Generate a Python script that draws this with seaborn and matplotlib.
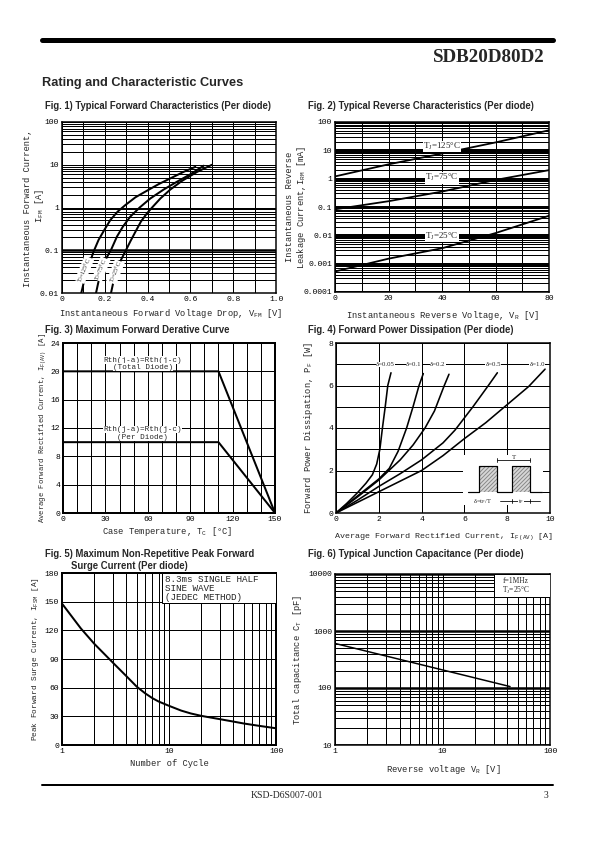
import numpy as np
import matplotlib
matplotlib.use('Agg')
import matplotlib.pyplot as plt
import matplotlib.ticker as mticker
from matplotlib.lines import Line2D
from matplotlib.patches import Rectangle
import seaborn as sns

# ── data ─────────────────────────────────────────────────────────
# Fig 1: forward characteristics, VF [V] vs IF [A]
f1_temps = ['125', '75', '25']
f1_vf = {'125': [0.090, 0.101, 0.114, 0.129, 0.148, 0.171, 0.198, 0.226, 0.260, 0.296,
                 0.343, 0.397, 0.452, 0.506, 0.569, 0.623],
         '75':  [0.159, 0.171, 0.187, 0.207, 0.231, 0.257, 0.285, 0.319, 0.363, 0.413,
                 0.475, 0.537, 0.600, 0.662],
         '25':  [0.229, 0.241, 0.257, 0.276, 0.296, 0.319, 0.343, 0.369, 0.397, 0.421,
                 0.460, 0.506, 0.561, 0.631, 0.701]}
f1_if = {'125': [0.01, 0.017, 0.029, 0.050, 0.094, 0.175, 0.30, 0.51, 0.80, 1.14,
                 1.73, 2.47, 3.53, 4.79, 6.84, 8.93],
         '75':  [0.01, 0.019, 0.035, 0.065, 0.107, 0.21, 0.36, 0.61, 1.0, 1.63,
                 2.63, 4.0, 6.0, 9.5],
         '25':  [0.01, 0.019, 0.035, 0.060, 0.094, 0.16, 0.27, 0.47, 0.73, 1.0,
                 1.63, 2.63, 4.2, 6.8, 10.0]}
f1_label_pos = {'125': (0.105, 0.035), '75': (0.183, 0.036), '25': (0.25, 0.031)}
f1_xticks = [0, 0.2, 0.4, 0.6, 0.8, 1.0]
f1_xticklabels = ['0', '0.2', '0.4', '0.6', '0.8', '1.0']
f1_yticks = [0.01, 0.1, 1, 10, 100]
f1_yticklabels = ['0.01', '0.1', '1', '10', '100']

# Fig 2: reverse leakage, VR [V] vs IR [mA]
f2_vr = [0, 20, 40, 60, 80]
f2_ir = {'125': [1.2, 3.2, 7.7, 19, 51],
         '75':  [0.083, 0.16, 0.35, 0.9, 2.0],
         '25':  [0.00053, 0.0015, 0.0035, 0.012, 0.049]}
f2_label_pos = {'125': (40, 13.8), '75': (40, 1.07), '25': (40, 0.0093)}
f2_xticks = [0, 20, 40, 60, 80]
f2_yticks = [0.0001, 0.001, 0.01, 0.1, 1, 10, 100]
f2_yticklabels = ['0.0001', '0.001', '0.01', '0.1', '1', '10', '100']

# Fig 3: derating, Tc [°C] vs IF(AV) [A]
f3_tc = [0, 110, 150]
f3_total = [20, 20, 0]
f3_per = [10, 10, 0]
f3_xticks = [0, 30, 60, 90, 120, 150]
f3_yticks = [0, 4, 8, 12, 16, 20, 24]

# Fig 4: power dissipation, IF(AV) [A] vs PF [W]
f4_duty = ['0.05', '0.1', '0.2', '0.5', '1.0']
f4_i = {'0.05': [0, 0.5, 1.0, 1.4, 1.7, 1.9, 2.05, 2.17, 2.3, 2.42, 2.57],
        '0.1':  [0, 1.0, 1.5, 2.0, 2.49, 2.9, 3.3, 3.6, 3.88, 4.08],
        '0.2':  [0, 1.0, 2.0, 3.0, 3.6, 4.16, 4.6, 5.06, 5.28],
        '0.5':  [0, 1.0, 2.0, 3.0, 4.0, 5.0, 5.56, 6.4, 7.12, 7.54],
        '1.0':  [0, 1.0, 2.0, 3.0, 4.0, 5.0, 6.0, 7.0, 8.0, 9.0, 9.77]}
f4_p = {'0.05': [0, 0.45, 0.95, 1.4, 1.8, 2.3, 3.0, 4.0, 5.0, 6.0, 6.6],
        '0.1':  [0, 0.8, 1.2, 1.6, 2.1, 2.9, 4.0, 5.0, 6.0, 6.56],
        '0.2':  [0, 0.75, 1.55, 2.5, 3.2, 4.0, 4.8, 6.0, 6.53],
        '0.5':  [0, 0.6, 1.25, 1.85, 2.5, 3.3, 3.9, 5.0, 6.0, 6.6],
        '1.0':  [0, 0.5, 1.0, 1.5, 2.0, 2.7, 3.5, 4.25, 5.1, 5.95, 6.77]}
f4_label_x = {'0.05': 2.32, '0.1': 3.64, '0.2': 4.75, '0.5': 7.35, '1.0': 9.41}
f4_xticks = [0, 2, 4, 6, 8, 10]
f4_yticks = [0, 2, 4, 6, 8]

# Fig 5: surge current, cycles vs IFSM [A]
f5_n = [1, 1.5, 2, 3, 4, 5, 6, 7, 8, 10, 13, 16, 20, 30, 40, 50, 70, 100]
f5_i = [148, 122, 106, 86, 72, 61, 54, 49, 45.5, 41, 36, 33, 30.5, 27, 24.5, 22.5, 20, 17.5]
f5_yticks = [0, 30, 60, 90, 120, 150, 180]

# Fig 6: junction capacitance, VR [V] vs CT [pF]
f6_v = [1, 42.5]
f6_c = [605, 106]
f6_yticks = [10, 100, 1000, 10000]

# ── page setup ───────────────────────────────────────────────────
W, H = 595, 842
sns.set_style('white')
plt.rcParams['font.family'] = ['Liberation Mono', 'DejaVu Sans']
plt.rcParams['mathtext.default'] = 'regular'

fig = plt.figure(figsize=(W / 72, H / 72), dpi=72)


def panel(l, t, r, b, spine=1.5):
    ax = fig.add_axes([l / W, 1 - b / H, (r - l) / W, (b - t) / H])
    for s in ax.spines.values():
        s.set_visible(True)
        s.set_color('black')
        s.set_linewidth(spine)
    ax.tick_params(which='both', length=0, labelsize=8, pad=3, colors='black')
    ax.set_axisbelow(True)
    return ax


def ftext(x, y, s, **kw):
    kw.setdefault('va', 'center')
    fig.text(x / W, 1 - y / H, s, **kw)


def hline(y, x0, x1, lw):
    fig.add_artist(Line2D([x0 / W, x1 / W], [1 - y / H, 1 - y / H], color='black', lw=lw))


title_kw = dict(family='Liberation Sans', weight='bold', size=9.5)
lab_kw = dict(size=8.8, ha='center')

hline(40, 42, 553, 5)
ftext(545, 58, 'SDB20D80D2', family='Liberation Serif', weight='bold', size=19, ha='right')
ftext(42, 83, 'Rating and Characteristic Curves', family='Liberation Sans', weight='bold', size=12.8)
hline(785, 42, 553, 2)
ftext(287, 795, 'KSD-D6S007-001', family='Liberation Serif', size=9.8, ha='center')
ftext(548, 795, '3', family='Liberation Serif', size=9.8, ha='right')

# ── Fig 1 ────────────────────────────────────────────────────────
ftext(45, 106, 'Fig. 1) Typical Forward Characteristics (Per diode)', **title_kw)
ax1 = panel(62, 122, 276, 293)
ax1.set_yscale('log')
for t in f1_temps:
    sns.lineplot(x=f1_vf[t], y=f1_if[t], ax=ax1, color='black', lw=2,
                 sort=False, estimator=None)
    ax1.text(*f1_label_pos[t], r'$T_J$=' + t + '°C', rotation=68, size=6,
             family='Liberation Serif', ha='center', va='center', zorder=5,
             bbox=dict(fc='white', ec='none', pad=0.3))
ax1.set_xlim(0, 1)
ax1.set_ylim(0.01, 100)
ax1.set_xticks(f1_xticks)
ax1.set_xticklabels(f1_xticklabels)
ax1.set_xticks(np.arange(0, 1.01, 0.1), minor=True)
ax1.set_yticks(f1_yticks)
ax1.set_yticklabels(f1_yticklabels)
ax1.yaxis.set_minor_locator(mticker.LogLocator(base=10, subs=np.arange(2, 10)))
ax1.yaxis.set_minor_formatter(mticker.NullFormatter())
ax1.grid(which='both', color='black', lw=1)
ax1.axhline(0.1, color='black', lw=2.5, zorder=1)
ax1.set_xlabel('')
ax1.set_ylabel('')
ftext(171, 313, r'Instantaneous Forward Voltage Drop, $V_{FM}$ [V]', **lab_kw)
ftext(28, 208, 'Instantaneous Forward Current,', rotation=90, **lab_kw)
ftext(40, 206, r'$I_{FM}$ [A]', rotation=90, **lab_kw)

# ── Fig 2 ────────────────────────────────────────────────────────
ftext(308, 106, 'Fig. 2) Typical Reverse Characteristics (Per diode)', **title_kw)
ax2 = panel(335, 122, 549, 292)
ax2.set_yscale('log')
for t in f1_temps:
    sns.lineplot(x=f2_vr, y=f2_ir[t], ax=ax2, color='black', lw=1.8,
                 sort=False, estimator=None)
    ax2.text(*f2_label_pos[t], r'$T_J$=' + t + '°C', size=9,
             family='Liberation Serif', ha='center', va='center', zorder=5,
             bbox=dict(fc='white', ec='none', pad=0.3))
ax2.set_xlim(0, 80)
ax2.set_ylim(0.0001, 100)
ax2.set_xticks(f2_xticks)
ax2.set_xticks(np.arange(0, 81, 10), minor=True)
ax2.set_yticks(f2_yticks)
ax2.set_yticklabels(f2_yticklabels)
ax2.yaxis.set_minor_locator(mticker.LogLocator(base=10, subs=np.arange(2, 10)))
ax2.yaxis.set_minor_formatter(mticker.NullFormatter())
ax2.grid(which='minor', color='black', lw=1)
ax2.grid(which='major', axis='x', color='black', lw=1)
ax2.grid(which='major', axis='y', color='black', lw=3)
ax2.set_xlabel('')
ax2.set_ylabel('')
ftext(443, 315, r'Instantaneous Reverse Voltage, $V_R$ [V]', **lab_kw)
ftext(289, 207, 'Instantaneous Reverse', rotation=90, **lab_kw)
ftext(301, 207, r'Leakage Current,$I_{RM}$ [mA]', rotation=90, **lab_kw)

# ── Fig 3 ────────────────────────────────────────────────────────
ftext(45, 330, 'Fig. 3) Maximum Forward Derative Curve', **title_kw)
ax3 = panel(63, 343, 275, 513, spine=2)
sns.lineplot(x=f3_tc, y=f3_total, ax=ax3, color='black', lw=2, sort=False, estimator=None)
sns.lineplot(x=f3_tc, y=f3_per, ax=ax3, color='black', lw=2, sort=False, estimator=None)
for y, s in [(21.6, 'Rth(j-a)=Rth(j-c)'), (20.6, '(Total Diode)'),
             (11.8, 'Rth(j-a)=Rth(j-c)'), (10.7, '(Per Diode)')]:
    ax3.text(56.5, y, s, size=7.6, ha='center', va='center', zorder=5,
             bbox=dict(fc='white', ec='none', pad=0.2))
ax3.set_xlim(0, 150)
ax3.set_ylim(0, 24)
ax3.set_xticks(f3_xticks)
ax3.set_xticks(np.arange(0, 151, 10), minor=True)
ax3.set_yticks(f3_yticks)
ax3.grid(which='both', color='black', lw=1)
ax3.set_xlabel('')
ax3.set_ylabel('')
ftext(167, 531, r'Case Temperature, $T_C$ [°C]', **lab_kw)
ftext(43, 428, r'Average Forward Rectified Current, $I_{F(AV)}$ [A]', rotation=90,
      size=7.3, ha='center')

# ── Fig 4 ────────────────────────────────────────────────────────
ftext(308, 330, 'Fig. 4) Forward Power Dissipation (Per diode)', **title_kw)
ax4 = panel(336, 343, 550, 513)
for d in f4_duty:
    sns.lineplot(x=f4_i[d], y=f4_p[d], ax=ax4, color='black', lw=1.6,
                 sort=False, estimator=None)
    ax4.text(f4_label_x[d], 7, 'δ=' + d, size=6.8, family='Liberation Serif',
             ha='center', va='center', zorder=5,
             bbox=dict(fc='white', ec='none', pad=0.2))
ax4.set_xlim(0, 10)
ax4.set_ylim(0, 8)
ax4.set_xticks(f4_xticks)
ax4.set_yticks(f4_yticks)
ax4.set_yticks(np.arange(0, 9, 1), minor=True)
ax4.grid(which='both', color='black', lw=1)
# duty-cycle inset
ax4.add_patch(Rectangle((5.93, 0.38), 3.74, 2.35, fc='white', ec='none', zorder=3))
for x0 in (6.68, 8.22):
    ax4.add_patch(Rectangle((x0, 1.0), 0.85, 1.23, fc='#d8d8d8', ec='#8a8a8a',
                            hatch='//////', lw=0, zorder=4))
ax4.plot([6.17, 6.68, 6.68, 7.52, 7.52, 8.22, 8.22, 9.07, 9.07, 9.63],
         [1.0, 1.0, 2.23, 2.23, 1.0, 1.0, 2.23, 2.23, 1.0, 1.0],
         color='black', lw=1.2, zorder=5)
ax4.plot([7.52, 9.07], [2.48, 2.48], color='black', lw=0.8, zorder=5)
ax4.plot([7.52, 7.52], [2.38, 2.58], color='black', lw=0.8, zorder=5)
ax4.plot([9.07, 9.07], [2.38, 2.58], color='black', lw=0.8, zorder=5)
ax4.text(8.3, 2.6, 'T', size=7, family='Liberation Serif', ha='center', va='center', zorder=6)
ax4.text(6.85, 0.55, r'δ=$t_P$/T', size=6.5, family='Liberation Serif',
         ha='center', va='center', zorder=6)
ax4.plot([7.65, 9.55], [0.55, 0.55], color='black', lw=0.8, zorder=5)
ax4.plot([8.22, 8.22], [0.45, 0.65], color='black', lw=0.8, zorder=5)
ax4.plot([9.07, 9.07], [0.45, 0.65], color='black', lw=0.8, zorder=5)
ax4.text(8.65, 0.55, r'$t_P$', size=6.5, family='Liberation Serif', ha='center',
         va='center', zorder=6, bbox=dict(fc='white', ec='none', pad=0.1))
ax4.set_xlabel('')
ax4.set_ylabel('')
ftext(444, 537, r'Average Forward Rectified Current, $I_{F(AV)}$ [A]', size=8.4, ha='center')
ftext(308, 428, r'Forward Power Dissipation, $P_F$ [W]', rotation=90, **lab_kw)

# ── Fig 5 ────────────────────────────────────────────────────────
ftext(45, 554, 'Fig. 5) Maximum Non-Repetitive Peak Forward', **title_kw)
ftext(71, 566, 'Surge Current (Per diode)', **title_kw)
ax5 = panel(62, 573, 276, 745, spine=2)
ax5.set_xscale('log')
sns.lineplot(x=f5_n, y=f5_i, ax=ax5, color='black', lw=2, sort=False, estimator=None)
ax5.add_patch(Rectangle((8.6, 148.6), 91.4, 31.4, fc='white', ec='black', lw=1, zorder=3))
ax5.text(9.1, 177.5, '8.3ms SINGLE HALF\nSINE WAVE\n(JEDEC METHOD)', size=9.2,
         ha='left', va='top', linespacing=0.95, zorder=4)
ax5.set_xlim(1, 100)
ax5.set_ylim(0, 180)
ax5.set_xticks([1, 10, 100])
ax5.set_xticklabels(['1', '10', '100'])
ax5.xaxis.set_minor_locator(mticker.LogLocator(base=10, subs=np.arange(2, 10)))
ax5.xaxis.set_minor_formatter(mticker.NullFormatter())
ax5.set_yticks(f5_yticks)
ax5.grid(which='both', color='black', lw=1)
ax5.set_xlabel('')
ax5.set_ylabel('')
ftext(169, 763, 'Number of Cycle', **lab_kw)
ftext(36, 659, r'Peak Forward Surge Current, $I_{FSM}$ [A]', rotation=90,
      size=7.8, ha='center')

# ── Fig 6 ────────────────────────────────────────────────────────
ftext(308, 554, 'Fig. 6) Typical Junction Capacitance (Per diode)', **title_kw)
ax6 = panel(335, 574, 550, 745)
ax6.set_xscale('log')
ax6.set_yscale('log')
sns.lineplot(x=f6_v, y=f6_c, ax=ax6, color='black', lw=1.5, sort=False, estimator=None)
ax6.add_patch(Rectangle((30, 3900), 70, 6100, fc='white', ec='black', lw=1, zorder=3))
ax6.text(36, 7600, 'f=1MHz', size=7.5, family='Liberation Serif', ha='left',
         va='center', zorder=4)
ax6.text(36, 5100, r'$T_J$=25°C', size=7.5, family='Liberation Serif', ha='left',
         va='center', zorder=4)
ax6.set_xlim(1, 100)
ax6.set_ylim(10, 10000)
ax6.set_xticks([1, 10, 100])
ax6.set_xticklabels(['1', '10', '100'])
ax6.set_yticks(f6_yticks)
ax6.set_yticklabels([str(v) for v in f6_yticks])
ax6.xaxis.set_minor_locator(mticker.LogLocator(base=10, subs=np.arange(2, 10)))
ax6.xaxis.set_minor_formatter(mticker.NullFormatter())
ax6.yaxis.set_minor_locator(mticker.LogLocator(base=10, subs=np.arange(2, 10)))
ax6.yaxis.set_minor_formatter(mticker.NullFormatter())
ax6.grid(which='minor', color='black', lw=1)
ax6.grid(which='major', axis='x', color='black', lw=1)
ax6.grid(which='major', axis='y', color='black', lw=2.5)
ax6.set_xlabel('')
ax6.set_ylabel('')
ftext(443, 770, r'Reverse voltage $V_R$ [V]', **lab_kw)
ftext(298, 660, r'Total capacitance $C_T$ [pF]', rotation=90, **lab_kw)

fig.savefig('out.png', dpi=72, facecolor='white')
